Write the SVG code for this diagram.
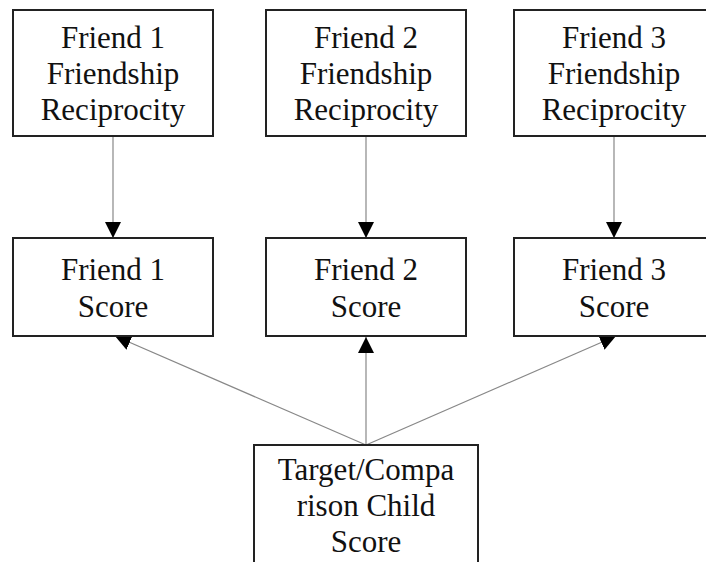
<svg xmlns="http://www.w3.org/2000/svg" width="706" height="562" viewBox="0 0 706 562">
<style>
.box{fill:#fff;stroke:#222;stroke-width:2}
.lbl{font-family:"Liberation Serif","Times New Roman",serif;font-size:31px;fill:#111;text-anchor:middle}
.conn{stroke:#888;stroke-width:1.2;fill:none}
</style>
<defs>
<marker id="arr" viewBox="0 0 16 16" refX="16" refY="8" markerWidth="16" markerHeight="16" markerUnits="userSpaceOnUse" orient="auto">
<path d="M0,0 L16,8 L0,16 Z" fill="#000"/>
</marker>
</defs>
<rect width="706" height="562" fill="#fff"/>
<g id="connectors">
<line class="conn" x1="113" y1="136" x2="113" y2="238" marker-end="url(#arr)"/>
<line class="conn" x1="366" y1="136" x2="366" y2="238" marker-end="url(#arr)"/>
<line class="conn" x1="614" y1="136" x2="614" y2="238" marker-end="url(#arr)"/>
<line class="conn" x1="366" y1="445" x2="115" y2="336" marker-end="url(#arr)"/>
<line class="conn" x1="366" y1="445" x2="366" y2="337" marker-end="url(#arr)"/>
<line class="conn" x1="366" y1="445" x2="616" y2="336" marker-end="url(#arr)"/>
</g>
<g id="recip1">
<rect class="box" x="13" y="10" width="200" height="126"/>
<text class="lbl" x="113" y="48">Friend 1</text>
<text class="lbl" x="113" y="84">Friendship</text>
<text class="lbl" x="113" y="120">Reciprocity</text>
</g>
<g id="recip2">
<rect class="box" x="266" y="10" width="200" height="126"/>
<text class="lbl" x="366" y="48">Friend 2</text>
<text class="lbl" x="366" y="84">Friendship</text>
<text class="lbl" x="366" y="120">Reciprocity</text>
</g>
<g id="recip3">
<rect class="box" x="514" y="10" width="200" height="126"/>
<text class="lbl" x="614" y="48">Friend 3</text>
<text class="lbl" x="614" y="84">Friendship</text>
<text class="lbl" x="614" y="120">Reciprocity</text>
</g>
<g id="score1">
<rect class="box" x="13" y="238" width="200" height="98"/>
<text class="lbl" x="113" y="280">Friend 1</text>
<text class="lbl" x="113" y="317">Score</text>
</g>
<g id="score2">
<rect class="box" x="266" y="238" width="200" height="98"/>
<text class="lbl" x="366" y="280">Friend 2</text>
<text class="lbl" x="366" y="317">Score</text>
</g>
<g id="score3">
<rect class="box" x="514" y="238" width="200" height="98"/>
<text class="lbl" x="614" y="280">Friend 3</text>
<text class="lbl" x="614" y="317">Score</text>
</g>
<g id="target">
<rect class="box" x="254" y="445" width="224" height="130"/>
<text class="lbl" x="366" y="480">Target/Compa</text>
<text class="lbl" x="366" y="516">rison Child</text>
<text class="lbl" x="366" y="552">Score</text>
</g>
</svg>
